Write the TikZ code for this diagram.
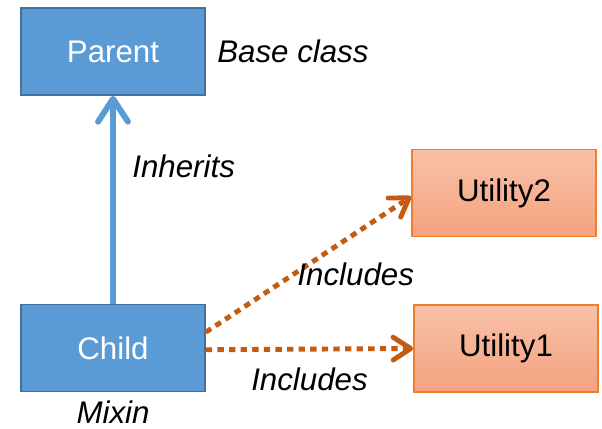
\documentclass[tikz,border=0pt]{standalone}
\usepackage{fontspec}
\setmainfont{Liberation Sans}
\usetikzlibrary{arrows.meta}
\usetikzlibrary{positioning}

\definecolor{clsblue}{HTML}{5B9BD5}
\definecolor{clsedge}{HTML}{41719C}
\definecolor{utiltop}{HTML}{F8C1A8}
\definecolor{utilbot}{HTML}{F4A27F}
\definecolor{utiledge}{HTML}{ED7D31}
\definecolor{inclcol}{HTML}{C55A11}

\begin{document}
\begin{tikzpicture}[
  x=0.02cm, y=-0.02cm,
  every node/.style={font=\fontsize{17.8}{21}\selectfont},
  classbox/.style={rectangle, draw=clsedge, line width=1pt, fill=clsblue,
    text=white, minimum width=3.68cm, minimum height=1.74cm},
  utilbox/.style={rectangle, draw=utiledge, line width=1pt,
    top color=utiltop, bottom color=utilbot,
    minimum width=3.68cm, minimum height=1.74cm},
  note/.style={font=\fontsize{17.8}{21}\selectfont\itshape, text=black},
  inherit/.style={line width=3.4pt, clsblue,
    -{Straight Barb[length=13pt, width=17pt, round]}},
  include/.style={line width=2.8pt, inclcol, dash pattern=on 3.6pt off 3pt,
    -{Straight Barb[length=10pt, width=13pt, round]}}
]
\useasboundingbox (0,0) rectangle (602,429);

% ====== CLASSES ======
\node[classbox] (parent) at (113,51.5) {Parent};
\node[classbox] (child) at (113,348) {Child};
\node[utilbox] (util2) at (504,193) {Utility2};
\node[utilbox] (util1) at (506,348.5) {Utility1};

\node[note, right=3pt of parent.east, anchor=west] (base) {Base class};
\node[note, below=1.5pt of child.south] (mixin) {Mixin};

% ====== RELATIONS ======
\draw[inherit] (child.north) -- (parent.south)
    node[note, pos=0.66, right=6pt] (inhlbl) {Inherits};
\draw[include] ([yshift=9pt]child.east) -- ([yshift=-2pt]util2.west)
    node[note, pos=0.73, below=12pt] (inc2lbl) {Includes};
\draw[include] ([yshift=-1pt]child.east) -- (util1.west)
    node[note, pos=0.5, below=6pt] (inc1lbl) {Includes};

\end{tikzpicture}
\end{document}
